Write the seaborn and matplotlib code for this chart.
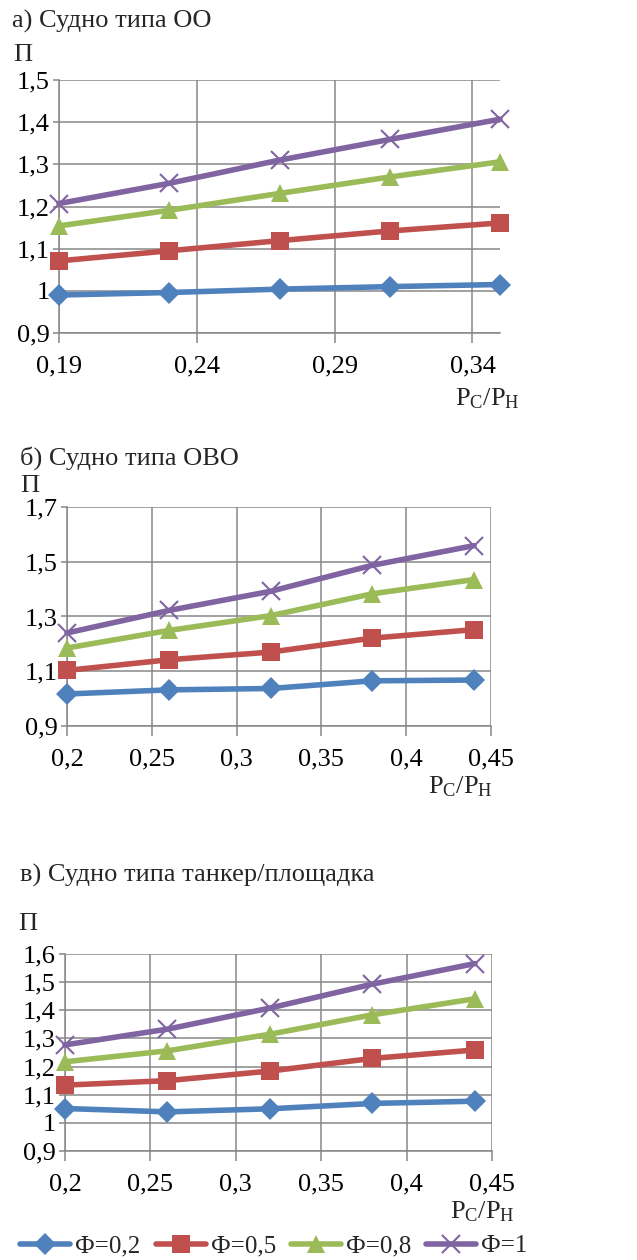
import matplotlib
matplotlib.use("Agg")
import matplotlib.pyplot as plt
import matplotlib.font_manager as fm
import seaborn as sns
import pandas as pd
from matplotlib.ticker import FuncFormatter, FixedLocator

# ---------------- data ----------------
series_labels = ["Ф=0,2", "Ф=0,5", "Ф=0,8", "Ф=1"]

x_a = [0.19, 0.23, 0.27, 0.31, 0.35]
a_f02 = [0.990, 0.996, 1.004, 1.010, 1.015]
a_f05 = [1.071, 1.095, 1.119, 1.142, 1.161]
a_f08 = [1.154, 1.191, 1.231, 1.270, 1.306]
a_f1 = [1.207, 1.255, 1.310, 1.359, 1.407]

x_b = [0.20, 0.26, 0.32, 0.38, 0.44]
b_f02 = [1.017, 1.032, 1.037, 1.065, 1.068]
b_f05 = [1.103, 1.142, 1.170, 1.221, 1.252]
b_f08 = [1.185, 1.249, 1.303, 1.383, 1.435]
b_f1 = [1.240, 1.322, 1.392, 1.487, 1.559]

x_c = [0.20, 0.26, 0.32, 0.38, 0.44]
c_f02 = [1.051, 1.039, 1.050, 1.069, 1.077]
c_f05 = [1.134, 1.150, 1.184, 1.229, 1.259]
c_f08 = [1.217, 1.256, 1.315, 1.384, 1.441]
c_f1 = [1.277, 1.333, 1.408, 1.493, 1.566]

titles = ["а) Судно типа ОО", "б) Судно типа ОВО", "в) Судно типа танкер/площадка"]

xticks_a = [0.19, 0.24, 0.29, 0.34]
yticks_a = [0.9, 1.0, 1.1, 1.2, 1.3, 1.4, 1.5]
xticks_b = [0.2, 0.25, 0.3, 0.35, 0.4, 0.45]
yticks_b = [0.9, 1.1, 1.3, 1.5, 1.7]
xticks_c = [0.2, 0.25, 0.3, 0.35, 0.4, 0.45]
yticks_c = [0.9, 1.0, 1.1, 1.2, 1.3, 1.4, 1.5, 1.6]

# ---------------- style ----------------
sns.set_style("white")

serif_name = None
for f in fm.fontManager.ttflist:
    if f.name == "Liberation Serif":
        serif_name = f.name
        break
if serif_name is None:
    serif_name = "DejaVu Serif"
plt.rcParams["font.family"] = [serif_name, "DejaVu Serif"]
plt.rcParams["font.serif"] = [serif_name, "DejaVu Serif"]
plt.rcParams["mathtext.fontset"] = "custom"
plt.rcParams["mathtext.rm"] = serif_name
plt.rcParams["mathtext.it"] = serif_name

colors = ["#4F81BD", "#C0504D", "#9BBB59", "#8064A2"]
markers = ["D", "s", "^", "x"]
msizes = [11, 12.5, 13, 13]
grid_c = "#878787"
FS = 19

fig = plt.figure(figsize=(6.37, 12.6), dpi=100)
W, H = 637, 1260

def px_axes(l, r, t, b):
    return fig.add_axes([l / W, 1 - b / H, (r - l) / W, (b - t) / H])

def fmt(v, _):
    s = f"{v:.2f}".rstrip("0").rstrip(".")
    return s.replace(".", ",")

panels = [
    dict(x=x_a, ys=[a_f02, a_f05, a_f08, a_f1], box=(59, 500, 80, 333),
         xlim=(0.19, 0.35), xticks=xticks_a, ylim=(0.9, 1.5), yticks=yticks_a),
    dict(x=x_b, ys=[b_f02, b_f05, b_f08, b_f1], box=(67, 491, 507, 726),
         xlim=(0.2, 0.45), xticks=xticks_b, ylim=(0.9, 1.7), yticks=yticks_b),
    dict(x=x_c, ys=[c_f02, c_f05, c_f08, c_f1], box=(65, 492, 954, 1151),
         xlim=(0.2, 0.45), xticks=xticks_c, ylim=(0.9, 1.6), yticks=yticks_c),
]

axes = []
for p in panels:
    ax = px_axes(*p["box"])
    axes.append(ax)
    for i, yv in enumerate(p["ys"]):
        df = pd.DataFrame({"x": p["x"], "y": yv})
        kw = dict(marker=markers[i], markersize=msizes[i], color=colors[i], linewidth=4.0,
                  label=series_labels[i], zorder=3 + i, clip_on=False)
        if markers[i] == "x":
            kw.update(markeredgewidth=1.5, markeredgecolor=colors[i])
        else:
            kw.update(markeredgewidth=0, markerfacecolor=colors[i])
        sns.lineplot(data=df, x="x", y="y", ax=ax, legend=False, **kw)
    ax.set_xlim(*p["xlim"])
    ax.set_ylim(*p["ylim"])
    ax.xaxis.set_major_locator(FixedLocator(p["xticks"]))
    ax.yaxis.set_major_locator(FixedLocator(p["yticks"]))
    ax.xaxis.set_major_formatter(FuncFormatter(fmt))
    ax.yaxis.set_major_formatter(FuncFormatter(fmt))
    ax.grid(True, color=grid_c, linewidth=1.1, zorder=0)
    ax.set_axisbelow(True)
    for s in ["top", "right"]:
        ax.spines[s].set_visible(False)
    for s in ["left", "bottom"]:
        ax.spines[s].set_color(grid_c)
        ax.spines[s].set_linewidth(1.1)
    ax.tick_params(axis="x", direction="out", length=7, width=1.1, color=grid_c,
                   labelsize=FS, pad=9, bottom=True)
    ax.tick_params(axis="y", direction="out", length=4.5, width=1.1, color=grid_c,
                   labelsize=FS, pad=2, left=True)
    ax.set_xlabel("")
    ax.set_ylabel("")
    for lab in ax.get_xticklabels() + ax.get_yticklabels():
        lab.set_color("black")

# ---------------- texts ----------------
def ftext(xp, yp, s, **kw):
    fig.text(xp / W, 1 - yp / H, s, fontsize=FS, va="baseline", **kw)

ftext(12, 28, titles[0])
ftext(13, 61, "П")
ftext(20, 465, titles[1])
ftext(20, 492, "П")
ftext(20, 882, titles[2])
ftext(18, 930, "П")

pch = r"$\mathrm{Р_{С}/Р_{Н}}$"
ftext(520, 405, pch, ha="right")
ftext(493, 793, pch, ha="right")
ftext(515, 1218, pch, ha="right")

# ---------------- legend ----------------
handles, labels = axes[2].get_legend_handles_labels()
fig.legend(handles[:4], labels[:4], loc="center", bbox_to_anchor=(274 / W, 1 - 1246 / H),
           ncol=4, frameon=False, fontsize=18, handlelength=2.0, handletextpad=0.2,
           columnspacing=0.6, borderaxespad=0, borderpad=0)

fig.savefig("out.png", dpi=100)
